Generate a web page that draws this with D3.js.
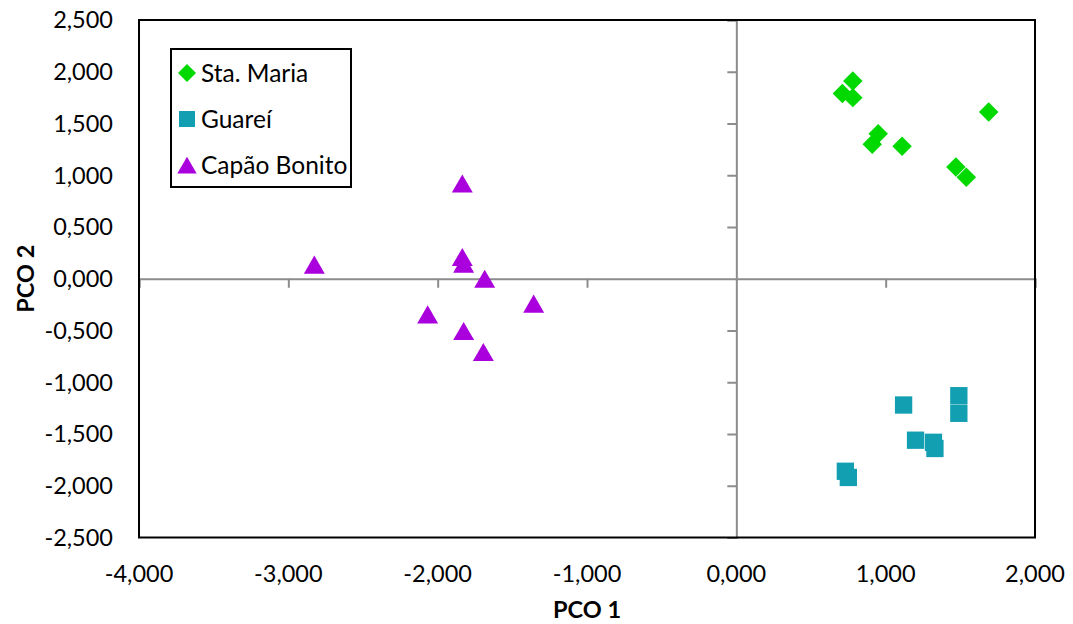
<!DOCTYPE html>
<html>
<head>
<meta charset="utf-8">
<script src="https://cdn.jsdelivr.net/npm/d3@7"></script>
<style>
  html, body { margin: 0; padding: 0; background: #fff; }
  svg { display: block; font-family: Lato, "Open Sans", sans-serif; }
</style>
</head>
<body>
<svg id="chart" width="1073" height="624"></svg>
<script>
// PCO ordination scores per site
const staMariaX = [0.78, 0.71, 0.78, 0.95, 0.91, 1.11, 1.69, 1.47, 1.54];
const staMariaY = [1.91, 1.79, 1.75, 1.40, 1.30, 1.28, 1.61, 1.08, 0.98];
const guareiX = [1.12, 1.49, 1.49, 1.20, 1.32, 1.33, 0.73, 0.75];
const guareiY = [-1.22, -1.13, -1.30, -1.56, -1.58, -1.64, -1.86, -1.92];
const capaoX = [-1.835, -2.826, -1.835, -1.826, -1.685, -1.357, -2.067, -1.826, -1.694];
const capaoY = [0.92, 0.136, 0.21, 0.146, 0.0, -0.24, -0.345, -0.505, -0.708];

const xTicks = [-4, -3, -2, -1, 0, 1, 2];
const yTicks = [-2.5, -2, -1.5, -1, -0.5, 0, 0.5, 1, 1.5, 2, 2.5];
const seriesNames = ["Sta. Maria", "Guareí", "Capão Bonito"];
const seriesColors = ["#00d900", "#129fb1", "#aa00dd"];

// square turned 45 degrees: equal width and height
const symbolRhombus = {
  draw(ctx, size) {
    const r = Math.sqrt(size / 2);
    ctx.moveTo(0, -r); ctx.lineTo(r, 0); ctx.lineTo(0, r); ctx.lineTo(-r, 0); ctx.closePath();
  }
};
const seriesShapes = [symbolRhombus, d3.symbolSquare, d3.symbolTriangle];

const series = [
  { name: seriesNames[0], xs: staMariaX, ys: staMariaY },
  { name: seriesNames[1], xs: guareiX, ys: guareiY },
  { name: seriesNames[2], xs: capaoX, ys: capaoY }
];

const svg = d3.select("#chart");
const plot = { left: 139, top: 20, right: 1035, bottom: 537.5 };
const fontSize = 23.5;

const x = d3.scaleLinear().domain([-4, 2]).range([plot.left, plot.right]);
const y = d3.scaleLinear().domain([-2.5, 2.5]).range([plot.bottom, plot.top]);

const fmt = v => d3.format(".3f")(v).replace(".", ",").replace("−", "-");

// zero axes crossing inside the plot
const axisColor = "#8c8c8c";
const xAxis = d3.axisBottom(x).tickValues(xTicks).tickSize(9).tickFormat("");
const yAxis = d3.axisLeft(y).tickValues(yTicks).tickSize(9).tickFormat("");

const gx = svg.append("g").attr("transform", `translate(0,${y(0)})`).call(xAxis);
const gy = svg.append("g").attr("transform", `translate(${x(0)},0)`).call(yAxis);
[gx, gy].forEach(g => {
  g.select(".domain").attr("stroke", axisColor).attr("stroke-width", 2);
  g.selectAll(".tick line").attr("stroke", axisColor).attr("stroke-width", 2);
});
gx.selectAll(".tick").filter(d => d === 0).select("line").remove();
gy.selectAll(".tick").filter(d => d === 0).select("line").remove();

// plot border
svg.append("rect")
  .attr("x", plot.left).attr("y", plot.top)
  .attr("width", plot.right - plot.left).attr("height", plot.bottom - plot.top)
  .attr("fill", "none").attr("stroke", "#000").attr("stroke-width", 2);

// tick labels along the outer edges
svg.append("g").selectAll("text").data(xTicks).join("text")
  .attr("x", d => x(d)).attr("y", plot.bottom + 44)
  .attr("text-anchor", "middle")
  .attr("font-size", fontSize).attr("fill", "#000")
  .text(fmt);

svg.append("g").selectAll("text").data(yTicks).join("text")
  .attr("x", 113).attr("y", d => y(d)).attr("dy", "0.36em")
  .attr("text-anchor", "end")
  .attr("font-size", fontSize).attr("fill", "#000")
  .text(fmt);

// axis titles
svg.append("text")
  .attr("x", (plot.left + plot.right) / 2).attr("y", 618)
  .attr("text-anchor", "middle").attr("font-size", fontSize).attr("font-weight", "bold")
  .text("PCO 1");

svg.append("text")
  .attr("transform", `translate(34,${(plot.top + plot.bottom) / 2}) rotate(-90)`)
  .attr("text-anchor", "middle").attr("font-size", fontSize).attr("font-weight", "bold")
  .text("PCO 2");

// markers
const sizes = [190, 300, 190];
series.forEach((s, i) => {
  const sym = d3.symbol().type(seriesShapes[i]).size(sizes[i]);
  svg.append("g").selectAll("path").data(s.xs.map((v, k) => [v, s.ys[k]])).join("path")
    .attr("d", sym)
    .attr("transform", d => `translate(${x(d[0])},${y(d[1]) + (i === 2 ? 3 : 0)})`)
    .attr("fill", seriesColors[i]);
});

// legend
const legend = svg.append("g");
legend.append("rect")
  .attr("x", 171).attr("y", 49).attr("width", 180).attr("height", 138)
  .attr("fill", "#fff").attr("stroke", "#000").attr("stroke-width", 2);
const legendY = [73, 119, 165];
series.forEach((s, i) => {
  const sym = d3.symbol().type(seriesShapes[i]).size(sizes[i] * 0.85);
  legend.append("path")
    .attr("d", sym)
    .attr("transform", `translate(187,${legendY[i] + (i === 2 ? 3 : 0)})`)
    .attr("fill", seriesColors[i]);
  legend.append("text")
    .attr("x", 201).attr("y", legendY[i]).attr("dy", "0.36em")
    .attr("font-size", 24.5).attr("fill", "#000")
    .text(s.name);
});
</script>
</body>
</html>
